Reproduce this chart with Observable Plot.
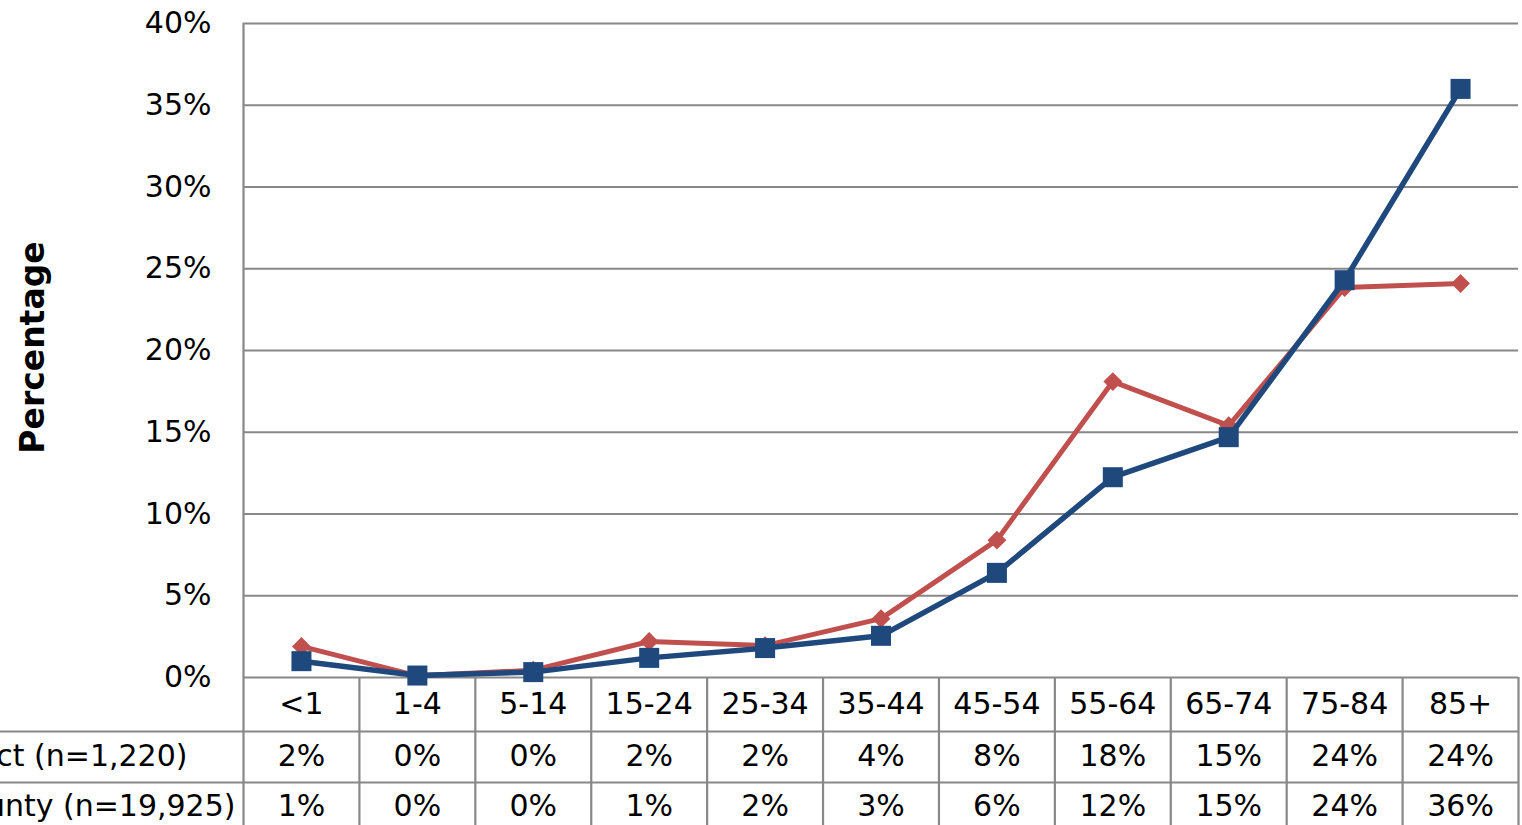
<!DOCTYPE html>
<html>
<head>
<meta charset="utf-8">
<script src="https://cdn.jsdelivr.net/npm/d3@7"></script>
<script src="https://cdn.jsdelivr.net/npm/@observablehq/plot@0.6"></script>
<style>
  html, body { margin: 0; padding: 0; background: #fff; overflow: hidden; }
  #chart svg { overflow: visible; }
</style>
</head>
<body>
<div id="chart"></div>
<script>
// ---- Data ----
const ageGroups = ["<1", "1-4", "5-14", "15-24", "25-34", "35-44", "45-54", "55-64", "65-74", "75-84", "85+"];
const districtLabel = "District (n=1,220)";
const countyLabel = "County (n=19,925)";
const districtValues = [1.9, 0.1, 0.45, 2.2, 1.95, 3.6, 8.4, 18.1, 15.4, 23.85, 24.1];
const countyValues = [1.0, 0.12, 0.33, 1.2, 1.8, 2.55, 6.4, 12.25, 14.7, 24.3, 36.0];
const yTicks = [0, 5, 10, 15, 20, 25, 30, 35, 40];
const yTitle = "Percentage";

const districtColor = "#C0504D";
const countyColor = "#1F497D";
const gridColor = "#888888";
const font = "'DejaVu Sans', sans-serif";

// ---- Layout ----
const W = 1522, H = 825;
const mL = 243, mR = 4, mT = 23, mB = 148;
const bw = (W - mL - mR) / ageGroups.length;

const district = ageGroups.map((g, i) => ({group: g, value: districtValues[i]}));
const county = ageGroups.map((g, i) => ({group: g, value: countyValues[i]}));

const fmt = v => Math.round(v) + "%";

const chart = Plot.plot({
  width: W,
  height: H,
  marginLeft: mL,
  marginRight: mR,
  marginTop: mT,
  marginBottom: mB,
  style: {fontFamily: font, fontSize: "30px", color: "#000", background: "#fff"},
  x: {type: "band", domain: ageGroups, padding: 0, round: false, axis: null},
  y: {domain: [0, 40], ticks: yTicks, tickFormat: d => d + "%", label: null},
  marks: [
    // horizontal gridlines
    Plot.ruleY(yTicks, {stroke: gridColor, strokeWidth: 2.2}),
    // table row lines extending to the left edge
    Plot.ruleY([0], {dy: 54, insetLeft: -mL, stroke: gridColor, strokeWidth: 2.2}),
    Plot.ruleY([0], {dy: 105, insetLeft: -mL, stroke: gridColor, strokeWidth: 2.2}),
    // left axis line (full height)
    Plot.ruleX([ageGroups[0]], {x: d => d, dx: -bw / 2, insetBottom: -mB, stroke: gridColor, strokeWidth: 2.2}),
    // table column separators
    Plot.ruleX(ageGroups.slice(1), {x: d => d, y1: 0, y2: 0, dx: -bw / 2, insetBottom: -mB, stroke: gridColor, strokeWidth: 2.2}),
    Plot.ruleX([ageGroups[ageGroups.length - 1]], {x: d => d, y1: 0, y2: 0, dx: bw / 2, insetBottom: -mB, stroke: gridColor, strokeWidth: 2.2}),
    // y axis
    Plot.axisY({ticks: yTicks, tickFormat: d => d + "%", tickSize: 0, tickPadding: 32, fontSize: 30, label: null}),
    // y title
    Plot.text([yTitle], {frameAnchor: "left", textAnchor: "middle", lineAnchor: "middle", dx: -210, dy: -3, rotate: -90, fontSize: 33, fontWeight: "bold", text: d => d}),
    // series
    Plot.line(district, {x: "group", y: "value", stroke: districtColor, strokeWidth: 5}),
    Plot.dot(district, {x: "group", y: "value", symbol: "diamond2", r: 8.5, fill: districtColor, stroke: "none"}),
    Plot.line(county, {x: "group", y: "value", stroke: countyColor, strokeWidth: 5.5}),
    Plot.dot(county, {x: "group", y: "value", symbol: "square", r: 11.3, fill: countyColor, stroke: "none"}),
    // data table
    Plot.text(ageGroups, {x: d => d, text: d => d, frameAnchor: "bottom", lineAnchor: "middle", dy: 27, fontSize: 30}),
    Plot.text(district, {x: "group", text: d => fmt(d.value), frameAnchor: "bottom", lineAnchor: "middle", dy: 79, fontSize: 30}),
    Plot.text(county, {x: "group", text: d => fmt(d.value), frameAnchor: "bottom", lineAnchor: "middle", dy: 129, fontSize: 30}),
    Plot.text([districtLabel], {frameAnchor: "bottom-left", lineAnchor: "middle", text: d => d, textAnchor: "end", dx: -56, dy: 79, fontSize: 30}),
    Plot.text([countyLabel], {frameAnchor: "bottom-left", lineAnchor: "middle", text: d => d, textAnchor: "end", dx: -8, dy: 129, fontSize: 30})
  ]
});

document.getElementById("chart").appendChild(chart);
</script>
</body>
</html>
